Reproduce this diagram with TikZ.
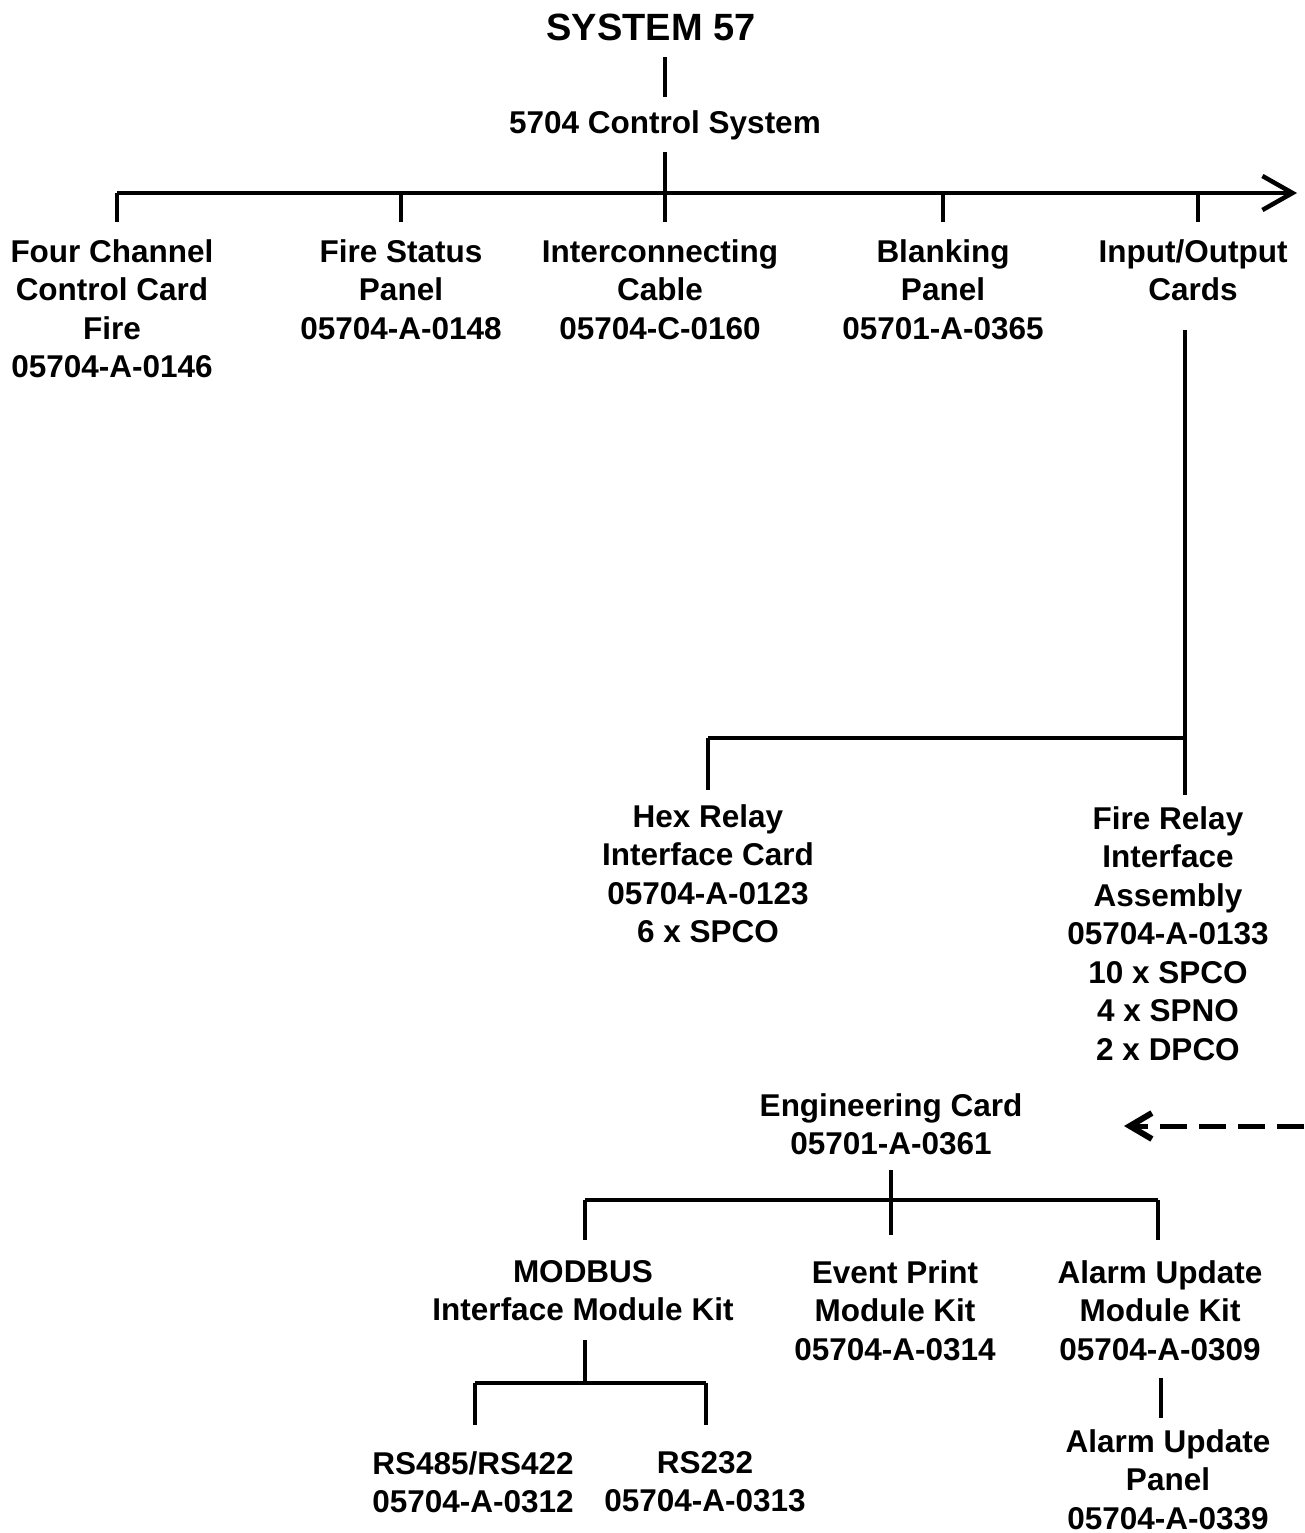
\documentclass[tikz,border=0pt]{standalone}
\usepackage{fontspec}
\setmainfont{Liberation Sans}
\usetikzlibrary{arrows.meta}

\begin{document}
\begin{tikzpicture}[
  x=1pt, y=-1pt,
  font=\fontsize{31.5}{38.5}\selectfont\bfseries,
  item/.style={anchor=north, align=center, inner sep=0pt},
  title/.style={anchor=north, inner sep=0pt, font=\fontsize{38}{44}\selectfont\bfseries},
  wire/.style={line width=4pt},
  arr/.style={line width=4pt, -{Straight Barb[length=30pt, width=34pt, line width=4.5pt]}},
  back/.style={line width=5pt, dash pattern=on 27pt off 12pt,
    -{Straight Barb[length=22pt, width=26pt, line width=6pt]}}
]
\useasboundingbox (0,0) rectangle (1304,1533);

% top of the tree
\node[title] (sys) at (651,14) {SYSTEM 57};
\node[item] (ctrl) at (665,110) {5704 Control System};

\node[item] (four) at (112,239) {Four Channel\\Control Card\\Fire\\05704-A-0146};
\node[item] (fsp) at (401,239) {Fire Status\\Panel\\05704-A-0148};
\node[item] (cable) at (660,239) {Interconnecting\\Cable\\05704-C-0160};
\node[item] (blank) at (943,239) {Blanking\\Panel\\05701-A-0365};
\node[item] (io) at (1193,239) {Input/Output\\Cards};

% relay cards
\node[item] (hex) at (708,804) {Hex Relay\\Interface Card\\05704-A-0123\\6 x SPCO};
\node[item] (frelay) at (1168,806) {Fire Relay\\Interface\\Assembly\\05704-A-0133\\10 x SPCO\\4 x SPNO\\2 x DPCO};

% engineering card
\node[item] (eng) at (891,1093) {Engineering Card\\05701-A-0361};
\node[item] (modbus) at (583,1260) {MODBUS\\Interface Module Kit};
\node[item] (event) at (895,1260) {Event Print\\Module Kit\\05704-A-0314};
\node[item] (alarm) at (1160,1260) {Alarm Update\\Module Kit\\05704-A-0309};
\node[item] (rs485) at (473,1451) {RS485/RS422\\05704-A-0312};
\node[item] (rs232) at (705,1451) {RS232\\05704-A-0313};
\node[item] (panel) at (1168,1429) {Alarm Update\\Panel\\05704-A-0339};

% bus points
\coordinate (busL) at (117,193);
\coordinate (busR) at (1297,193);
\coordinate (ioJ) at (1185,738);
\coordinate (hexJ) at (708,738);
\coordinate (engL) at (585,1200);
\coordinate (engR) at (1158,1200);
\coordinate (modL) at (475,1383);
\coordinate (modR) at (706,1383);
\coordinate (dashS) at (1304,1126);
\coordinate (dashE) at (1124,1126);

\draw[wire] ([yshift=-16pt]sys.south -| ctrl) -- ([yshift=13pt]ctrl.north);
\draw[wire] ([yshift=-12pt]ctrl.south) -- (665,222);
\draw[arr] (busL) -- (busR);
\foreach \x in {117,401,943,1198}
  \draw[wire] (\x,193) -- (\x,222);

\draw[wire] (1185,330) -- (1185,795);
\draw[wire] (hexJ) -- (ioJ);
\draw[wire] (hexJ) -- ++(0,52);

\draw[back] (dashS) -- (dashE);

\draw[wire] (891,1170) -- (891,1235);
\draw[wire] (engL) -- (engR);
\draw[wire] (engL) -- ++(0,40);
\draw[wire] (engR) -- ++(0,40);

\draw[wire] (585,1340) -- (585,1383);
\draw[wire] (modL) -- (modR);
\draw[wire] (modL) -- ++(0,42);
\draw[wire] (modR) -- ++(0,42);

\draw[wire] (1161,1378) -- (1161,1418);

\end{tikzpicture}
\end{document}
